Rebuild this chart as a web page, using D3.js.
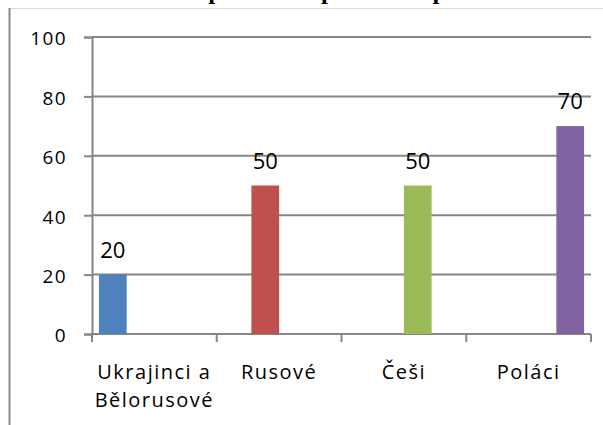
<!DOCTYPE html>
<html>
<head>
<meta charset="utf-8">
<script src="https://cdn.jsdelivr.net/npm/d3@7"></script>
<style>
  html, body { margin: 0; padding: 0; background: #fff; overflow: hidden; }
  svg { display: block; }
</style>
</head>
<body>
<div id="chart"></div>
<script>
// data
const categories = ["Ukrajinci a Bělorusové", "Rusové", "Češi", "Poláci"];
const categoryLines = [["Ukrajinci a", "Bělorusové"], ["Rusové"], ["Češi"], ["Poláci"]];
const series = ["s1", "s2", "s3", "s4"];
const values = [20, 50, 50, 70];   // one value per category, each in its own series slot
const colors = ["#4F81BD", "#C0504D", "#9BBB59", "#8064A2"];
const yTicks = [0, 20, 40, 60, 80, 100];
const title = "Odpovědi respondentů podle národnosti";

const width = 603;
const height = 425;
const plot = { left: 92, right: 591, top: 37, bottom: 334 };

let svg = d3.select("#chart").append("svg")
    .attr("width", width)
    .attr("height", height);

// title, cropped: only the descenders stick out above the frame
svg.append("text")
    .attr("x", 175)
    .attr("y", -1.5)
    .attr("font-family", "'Liberation Serif', 'Times New Roman', serif")
    .attr("font-weight", "bold")
    .attr("font-size", 25)
    .attr("word-spacing", 4)
    .attr("fill", "#000")
    .text(title);

// white cover so that nothing of the title shows below its descenders
svg.append("rect")
    .attr("x", 0).attr("y", 7)
    .attr("width", width).attr("height", height - 7)
    .attr("fill", "#fff");

// outer frame (the chart is cropped at the top)
svg.append("line")
    .attr("x1", 9).attr("x2", width)
    .attr("y1", 8.5).attr("y2", 8.5)
    .attr("stroke", "#d9d9d9").attr("stroke-width", 1);
svg.append("line")
    .attr("x1", 9.5).attr("x2", 9.5)
    .attr("y1", 8).attr("y2", height)
    .attr("stroke", "#8a8a8a").attr("stroke-width", 2);

let x0 = d3.scaleBand()
    .domain(categories)
    .range([plot.left, plot.right])
    .padding(0);

let x1 = d3.scaleBand()
    .domain(series)
    .range([0, x0.bandwidth()])
    .paddingInner(0)
    .paddingOuter(0.25);

let y = d3.scaleLinear()
    .domain([0, 100])
    .range([plot.bottom, plot.top]);

const axisColor = "#868686";

// gridlines
svg.append("g").selectAll("line")
    .data(yTicks.filter(d => d > 0))
    .enter().append("line")
    .attr("x1", plot.left).attr("x2", plot.right)
    .attr("y1", d => y(d)).attr("y2", d => y(d))
    .attr("stroke", axisColor).attr("stroke-width", 2);

// y axis
let yAxis = svg.append("g")
    .attr("transform", `translate(${plot.left},0)`)
    .call(d3.axisLeft(y).tickValues(yTicks).tickSize(8).tickPadding(17).tickFormat(d3.format("d")));
yAxis.select(".domain").attr("stroke", axisColor).attr("stroke-width", 2);
yAxis.selectAll(".tick line").attr("stroke", axisColor).attr("stroke-width", 2);
yAxis.selectAll(".tick text")
    .attr("font-family", "'Open Sans', sans-serif")
    .attr("font-size", 19)
    .attr("letter-spacing", 1.4)
    .attr("fill", "#000")
    .attr("dy", "0.42em");

// x axis
let xAxisG = svg.append("g");
xAxisG.append("line")
    .attr("x1", plot.left).attr("x2", plot.right)
    .attr("y1", plot.bottom).attr("y2", plot.bottom)
    .attr("stroke", axisColor).attr("stroke-width", 2);
let bounds = categories.map(c => x0(c)).concat([plot.right]);
xAxisG.selectAll(".xt")
    .data(bounds)
    .enter().append("line")
    .attr("class", "xt")
    .attr("x1", d => d).attr("x2", d => d)
    .attr("y1", plot.bottom).attr("y2", plot.bottom + 8)
    .attr("stroke", axisColor).attr("stroke-width", 2);

xAxisG.selectAll(".xl")
    .data(categories)
    .enter().append("text")
    .attr("class", "xl")
    .attr("text-anchor", "middle")
    .attr("font-family", "'Open Sans', sans-serif")
    .attr("font-size", 20)
    .attr("letter-spacing", 1.5)
    .attr("fill", "#000")
    .each(function (c, i) {
        const t = d3.select(this);
        categoryLines[i].forEach((line, j) => {
            t.append("tspan")
                .attr("x", x0(c) + x0.bandwidth() / 2)
                .attr("y", 379 + j * 28)
                .text(line);
        });
    });

// bars
let barData = categories.map((c, i) => ({ cat: c, s: series[i], v: values[i], color: colors[i] }));

svg.append("g").selectAll("rect")
    .data(barData)
    .enter().append("rect")
    .attr("x", d => x0(d.cat) + x1(d.s))
    .attr("width", x1.bandwidth())
    .attr("y", d => y(d.v))
    .attr("height", d => y(0) - y(d.v))
    .attr("fill", d => d.color);

// value labels
svg.append("g").selectAll("text")
    .data(barData)
    .enter().append("text")
    .attr("x", d => x0(d.cat) + x1(d.s) + x1.bandwidth() / 2)
    .attr("y", d => y(d.v) - 17)
    .attr("text-anchor", "middle")
    .attr("font-family", "'Open Sans', sans-serif")
    .attr("font-size", 22)
    .attr("fill", "#000")
    .text(d => d.v);
</script>
</body>
</html>
